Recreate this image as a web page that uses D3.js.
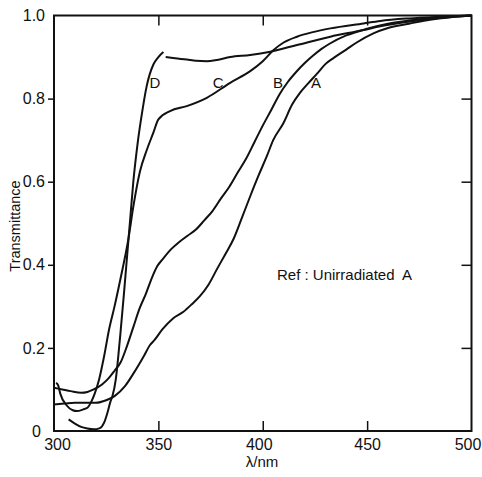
<!DOCTYPE html>
<html>
<head>
<meta charset="utf-8">
<script src="https://cdn.jsdelivr.net/npm/d3@7"></script>
<style>
html,body{margin:0;padding:0;background:#fff;}
text{font-family:"Liberation Sans",Arial,sans-serif;fill:#111;}
</style>
</head>
<body>
<div id="chart"></div>
<script>
// ---- data (wavelength nm, transmittance) ----
const curveA = [[300,0.064],[305,0.066],[310,0.068],[315,0.068],[320,0.068],[325,0.074],[329,0.084],[334,0.108],[338,0.138],[343,0.18],[346,0.207],[348,0.218],[352,0.245],[357,0.271],[362,0.287],[366,0.305],[370,0.325],[374,0.352],[378,0.389],[382,0.425],[386,0.462],[390,0.513],[394,0.565],[398,0.615],[402,0.662],[405,0.70],[410,0.742],[414,0.785],[418,0.815],[422,0.838],[426,0.86],[430,0.883],[434,0.898],[440,0.918],[445,0.935],[453,0.957],[460,0.97],[470,0.98],[480,0.99],[490,0.996],[500,1.0]];
const curveB = [[300,0.104],[304,0.10],[308,0.096],[313,0.092],[316,0.094],[319,0.10],[323,0.112],[326,0.126],[329,0.145],[332,0.166],[335,0.205],[338,0.25],[341,0.295],[344,0.33],[347,0.37],[349.5,0.397],[352,0.413],[356,0.437],[360,0.455],[364,0.47],[368,0.485],[372,0.507],[376,0.53],[380,0.56],[384,0.588],[388,0.622],[392,0.655],[396,0.695],[400,0.735],[404,0.772],[408,0.81],[412,0.84],[416,0.864],[420,0.885],[424,0.903],[428,0.919],[432,0.932],[440,0.952],[450,0.968],[460,0.98],[470,0.988],[480,0.994],[490,0.998],[500,1.0]];
const curveC = [[301,0.116],[302,0.11],[303,0.09],[306,0.062],[309,0.05],[311,0.048],[314,0.052],[316,0.056],[318,0.072],[319.5,0.09],[321.6,0.124],[324,0.18],[326.4,0.245],[329,0.30],[332,0.37],[335.6,0.461],[338,0.54],[341.2,0.625],[344.5,0.677],[347.6,0.718],[350,0.75],[355.6,0.77],[363.6,0.782],[373.2,0.802],[384.4,0.838],[394,0.866],[400,0.89],[405.2,0.917],[410,0.935],[416.4,0.949],[424,0.96],[432.4,0.969],[448.3,0.981],[456.3,0.987],[470,0.993],[485,0.997],[500,1.0]];
const curveDRise = [[307,0.028],[310,0.018],[313,0.01],[316,0.006],[319,0.004],[322,0.007],[324,0.02],[325.6,0.044],[327,0.07],[328,0.084],[329.6,0.124],[330.8,0.18],[332,0.245],[333.5,0.33],[335,0.42],[336.5,0.51],[338,0.6],[340,0.69],[342,0.76],[344.4,0.83],[347.6,0.882],[350,0.9],[352.4,0.912]];
const curveDFlat = [[353.5,0.9],[358,0.897],[363.6,0.894],[368,0.891],[373.2,0.89],[378,0.893],[384.4,0.9],[394,0.905],[403.6,0.913],[416.4,0.929],[432.4,0.949],[448.3,0.965],[456.3,0.974],[470,0.985],[485,0.994],[500,1.0]];

const curveLabels = [["D",348.4,0.84],["C",378.6,0.84],["B",407.3,0.84],["A",425.5,0.84]];
const xTicks = [300,350,400,450,500];
const yTicks = [0,0.2,0.4,0.6,0.8,1.0];
const yTickText = ["0","0.2","0.4","0.6","0.8","1.0"];

// ---- layout ----
const W = 482, H = 477;
const mL = 54, mR = 471.5, mT = 15.5, mB = 431;

const x = d3.scaleLinear().domain([300,500]).range([mL,mR]);
const y = d3.scaleLinear().domain([0,1]).range([mB,mT]);

const svg = d3.select("#chart").append("svg").attr("width",W).attr("height",H);

// frame
svg.append("rect").attr("x",mL).attr("y",mT).attr("width",mR-mL).attr("height",mB-mT)
  .attr("fill","none").attr("stroke","#111").attr("stroke-width",2);

// axes
const axB = d3.axisBottom(x).tickValues(xTicks).tickSize(-10).tickPadding(19).tickFormat(d3.format("d"));
const gB = svg.append("g").attr("transform",`translate(0,${mB})`).call(axB);
const axT = d3.axisTop(x).tickValues([350,400,450]).tickSize(-10).tickFormat("");
const gT = svg.append("g").attr("transform",`translate(0,${mT})`).call(axT);
const axL = d3.axisLeft(y).tickValues(yTicks).tickSize(6).tickPadding(3).tickFormat((d,i)=>yTickText[i]);
const gL = svg.append("g").attr("transform",`translate(${mL},0)`).call(axL);
const axR = d3.axisRight(y).tickValues([0.2,0.4,0.6,0.8]).tickSize(-10).tickFormat("");
const gR = svg.append("g").attr("transform",`translate(${mR},0)`).call(axR);

[gB,gT,gL,gR].forEach(g=>{
  g.select(".domain").remove();
  g.selectAll(".tick line").attr("stroke","#111").attr("stroke-width",1.5);
  g.selectAll(".tick text").style("font-size","16px").attr("fill","#111");
});
gB.selectAll(".tick text").attr("dy","0")
  .attr("dx",d=>d===300?3:(d===400?-4:(d===500?-4:0)));
gB.selectAll(".tick line").filter(d=>d===300||d===500).remove();
gL.selectAll(".tick line").filter(d=>d===0||d===1).remove();
gL.selectAll(".tick text").filter(d=>d===0).attr("dx",-4);

// axis titles
svg.append("text").attr("transform","translate(20,226) rotate(-90)")
  .attr("text-anchor","middle").style("font-size","14.5px").text("Transmittance");
svg.append("text").attr("x",262).attr("y",467).attr("text-anchor","middle")
  .style("font-size","15px").text("λ/nm");

// curves
const line = d3.line().x(d=>x(d[0])).y(d=>y(d[1])).curve(d3.curveMonotoneX);
[curveA,curveB,curveC,curveDRise,curveDFlat].forEach(c=>{
  svg.append("path").datum(c).attr("d",line)
    .attr("fill","none").attr("stroke","#111").attr("stroke-width",2);
});

// labels
svg.selectAll(".clab").data(curveLabels).enter().append("text")
  .attr("x",d=>x(d[1])).attr("y",d=>y(d[2])+6).attr("text-anchor","middle")
  .style("font-size","15px").text(d=>d[0]);

svg.append("text").attr("x",277).attr("y",280).style("font-size","15px")
  .style("white-space","pre").text("Ref : Unirradiated  A");
</script>
</body>
</html>
